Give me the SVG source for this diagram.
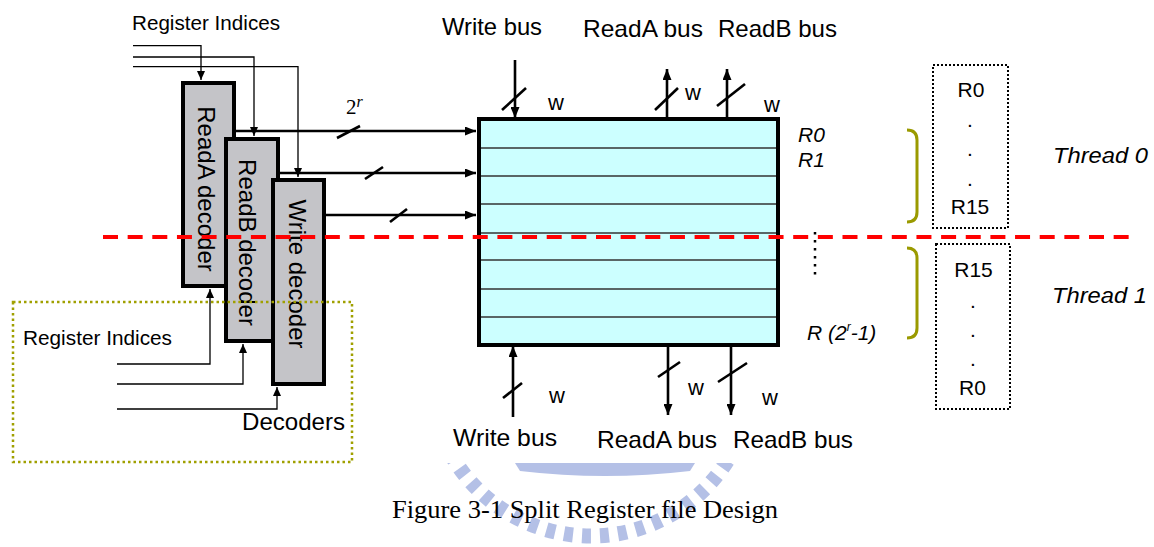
<svg xmlns="http://www.w3.org/2000/svg" width="1154" height="547" viewBox="0 0 1154 547">
<style>
.sans{font-family:"Liberation Sans",Arial,sans-serif;fill:#000}
.it{font-style:italic}
.thin{stroke:#000;stroke-width:1.3;fill:none}
.bus{stroke:#000;stroke-width:2.6;fill:none}
.slash{stroke:#000;stroke-width:2.6}
.dec{fill:#c4c4c8;stroke:#000;stroke-width:4}
.row{stroke:#333;stroke-width:1.5}
.olive{stroke:#9a9a00;stroke-width:3;fill:none}
</style>
<defs>
<marker id="ah" markerUnits="userSpaceOnUse" markerWidth="11" markerHeight="9" refX="11" refY="4.5" orient="auto"><path d="M0,0 L11,4.5 L0,9 z" fill="#000"/></marker>
<marker id="ahs" markerUnits="userSpaceOnUse" markerWidth="9" markerHeight="8" refX="9" refY="4" orient="auto"><path d="M0,0 L9,4 L0,8 z" fill="#000"/></marker>
<clipPath id="wmclip"><rect x="380" y="463" width="420" height="84"/></clipPath>
</defs>
<rect width="1154" height="547" fill="#fff"/>
<g id="watermark" clip-path="url(#wmclip)" fill="#b4c0e6">
<circle cx="591" cy="375" r="161" fill="none" stroke="#b4c0e6" stroke-width="15" stroke-dasharray="9 9.06"/>
<path d="M515,463 L695,463 L690,471 Q605,481 520,471 Z"/>
</g>
<g id="caption"><text x="392" y="518" font-family="Liberation Serif,'Times New Roman',serif" font-size="26" textLength="386" lengthAdjust="spacingAndGlyphs">Figure 3-1 Split Register file Design</text></g>
<g id="indices-top">
<text class="sans" x="132" y="30" font-size="20.5" textLength="148" lengthAdjust="spacingAndGlyphs">Register Indices</text>
</g>
<g id="connectors">
<path class="thin" d="M133,45.7 H201 V80" marker-end="url(#ahs)"/>
<path class="thin" d="M133,57 H254 V136" marker-end="url(#ahs)"/>
<path class="thin" d="M133,66.7 H298 V177" marker-end="url(#ahs)"/>
<path class="thin" d="M117,364 H210 V289" marker-end="url(#ahs)"/>
<path class="thin" d="M117,384 H243 V344" marker-end="url(#ahs)"/>
<path class="thin" d="M117,409 H277 V387" marker-end="url(#ahs)"/>
<line class="bus" x1="236" y1="131" x2="476" y2="131" marker-end="url(#ah)"/>
<line class="bus" x1="280" y1="173" x2="476" y2="173" marker-end="url(#ah)"/>
<line class="bus" x1="326" y1="215" x2="476" y2="215" marker-end="url(#ah)"/>
<line class="slash" x1="337" y1="138" x2="360" y2="126"/>
<line class="slash" x1="365" y1="179" x2="383" y2="167"/>
<line class="slash" x1="390" y1="222" x2="407" y2="209"/>
<line class="bus" x1="515" y1="60" x2="515" y2="118" marker-end="url(#ah)"/>
<line class="bus" x1="667" y1="119" x2="667" y2="69" marker-end="url(#ah)"/>
<line class="bus" x1="727" y1="119" x2="727" y2="69" marker-end="url(#ah)"/>
<line class="bus" x1="513" y1="417" x2="513" y2="346" marker-end="url(#ah)"/>
<line class="bus" x1="668" y1="346" x2="668" y2="415" marker-end="url(#ah)"/>
<line class="bus" x1="731" y1="346" x2="731" y2="415" marker-end="url(#ah)"/>
<line class="slash" x1="502" y1="110" x2="526" y2="88"/>
<line class="slash" x1="655" y1="110" x2="678" y2="88"/>
<line class="slash" x1="717" y1="106" x2="745" y2="84"/>
<line class="slash" x1="503" y1="398" x2="522" y2="383"/>
<line class="slash" x1="658" y1="377" x2="680" y2="362"/>
<line class="slash" x1="718" y1="382" x2="747" y2="363"/>
</g>
<g id="readA-decoder">
<rect class="dec" x="183" y="83" width="51" height="203"/>
<text class="sans" font-size="24" text-anchor="middle" transform="translate(198,189) rotate(90)">ReadA decoder</text>
</g>
<g id="readB-decoder">
<rect class="dec" x="226" y="139" width="52" height="202"/>
<text class="sans" font-size="24" text-anchor="middle" transform="translate(239,242.5) rotate(90)">ReadB decoder</text>
</g>
<g id="write-decoder">
<rect class="dec" x="273" y="180" width="51" height="204"/>
<text class="sans" font-size="24" text-anchor="middle" transform="translate(289,274) rotate(90)">Write decoder</text>
</g>
<g id="decoders-box">
<rect x="13" y="302" width="339" height="160" fill="none" stroke="#a0a000" stroke-width="2.5" stroke-dasharray="2.5 3"/>
<text class="sans" x="23" y="345" font-size="20.5" textLength="149" lengthAdjust="spacingAndGlyphs">Register Indices</text>
<text class="sans" x="242" y="430" font-size="24" textLength="103" lengthAdjust="spacingAndGlyphs">Decoders</text>
</g>
<g id="width-label">
<text x="346" y="114" font-family="Liberation Serif,'Times New Roman',serif" font-size="21">2<tspan font-style="italic" font-size="16" dy="-7">r</tspan></text>
</g>
<g id="register-file">
<rect x="479" y="119" width="299" height="226" fill="#ccffff" stroke="#000" stroke-width="4"/>
<line class="row" x1="481" y1="148" x2="776" y2="148"/>
<line class="row" x1="481" y1="176" x2="776" y2="176"/>
<line class="row" x1="481" y1="204" x2="776" y2="204"/>
<line class="row" x1="481" y1="233" x2="776" y2="233"/>
<line class="row" x1="481" y1="260" x2="776" y2="260"/>
<line class="row" x1="481" y1="289" x2="776" y2="289"/>
<line class="row" x1="481" y1="317" x2="776" y2="317"/>
</g>
<g id="bus-labels" class="sans">
<text x="492" y="35" font-size="24" text-anchor="middle" textLength="100" lengthAdjust="spacingAndGlyphs">Write bus</text>
<text x="643" y="37" font-size="24" text-anchor="middle" textLength="120" lengthAdjust="spacingAndGlyphs">ReadA bus</text>
<text x="777.5" y="37" font-size="24" text-anchor="middle" textLength="119" lengthAdjust="spacingAndGlyphs">ReadB bus</text>
<text x="505" y="446" font-size="24" text-anchor="middle" textLength="104" lengthAdjust="spacingAndGlyphs">Write bus</text>
<text x="657" y="448" font-size="24" text-anchor="middle" textLength="120" lengthAdjust="spacingAndGlyphs">ReadA bus</text>
<text x="793" y="448" font-size="24" text-anchor="middle" textLength="120" lengthAdjust="spacingAndGlyphs">ReadB bus</text>
<text x="548" y="110" font-size="22">w</text>
<text x="685" y="100" font-size="22">w</text>
<text x="764" y="112" font-size="22">w</text>
<text x="549" y="403" font-size="22">w</text>
<text x="688" y="395" font-size="22">w</text>
<text x="762" y="405" font-size="22">w</text>
</g>
<g id="register-names" class="sans it">
<text x="798" y="142" font-size="21">R0</text>
<text x="798" y="167" font-size="21">R1</text>
<text x="807" y="340" font-size="21">R (2<tspan font-size="12" dy="-9">r</tspan><tspan dy="9">-1)</tspan></text>
<line x1="815" y1="232" x2="815" y2="276" stroke="#000" stroke-width="2.5" stroke-dasharray="2.5 5.5"/>
</g>
<g id="brackets">
<path class="olive" d="M907,130 Q917,130 917,140 L917,212 Q917,222 907,222"/>
<path class="olive" d="M907,248 Q917,248 917,258 L917,328 Q917,338 907,338"/>
</g>
<g id="thread0-box">
<rect x="933" y="65" width="75" height="163" fill="none" stroke="#000" stroke-width="2" stroke-dasharray="2 2"/>
<text class="sans" x="971" y="97" font-size="21" text-anchor="middle">R0</text>
<text class="sans" x="970" y="127" font-size="21" text-anchor="middle">.</text>
<text class="sans" x="970" y="156" font-size="21" text-anchor="middle">.</text>
<text class="sans" x="970" y="186" font-size="21" text-anchor="middle">.</text>
<text class="sans" x="970" y="214" font-size="21" text-anchor="middle">R15</text>
</g>
<g id="thread1-box">
<rect x="936" y="244" width="74" height="165" fill="none" stroke="#000" stroke-width="2" stroke-dasharray="2 2"/>
<text class="sans" x="973.5" y="277" font-size="21" text-anchor="middle">R15</text>
<text class="sans" x="973" y="308" font-size="21" text-anchor="middle">.</text>
<text class="sans" x="973" y="337" font-size="21" text-anchor="middle">.</text>
<text class="sans" x="973" y="366" font-size="21" text-anchor="middle">.</text>
<text class="sans" x="972.5" y="395" font-size="21" text-anchor="middle">R0</text>
</g>
<g id="thread-labels" class="sans it">
<text x="1053" y="163" font-size="22" textLength="95" lengthAdjust="spacingAndGlyphs">Thread 0</text>
<text x="1052" y="303" font-size="22" textLength="95" lengthAdjust="spacingAndGlyphs">Thread 1</text>
</g>
<g id="thread-split">
<line x1="103" y1="237" x2="1138" y2="237" stroke="#ff0000" stroke-width="4" stroke-dasharray="15 9.65"/>
</g>
</svg>
